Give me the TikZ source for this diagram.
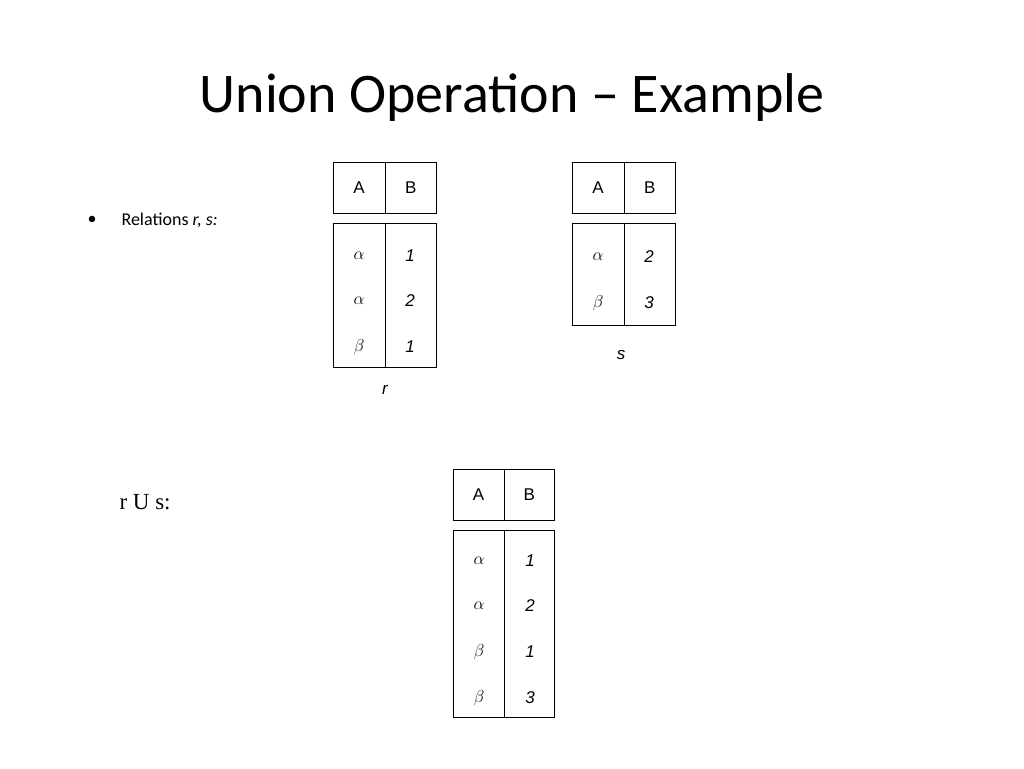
\documentclass[tikz,border=0pt]{standalone}
\usepackage{fontspec}
\usetikzlibrary{calc}
\setmainfont{Liberation Sans}
\newfontfamily\calfont{Carlito}
\newfontfamily\tnr{Liberation Serif}
\newcommand{\tbl}[6]{%
  \node[draw,line width=0.8pt,minimum width=#2-#1,minimum height=51,inner sep=0,anchor=north west] (#6h) at (#1,#3) {};
  \draw[line width=0.8pt] (#6h.north) -- (#6h.south);
  \node[draw,line width=0.8pt,minimum width=#2-#1,minimum height=#5-#4,inner sep=0,anchor=north west] (#6b) at (#1,#4) {};
  \draw[line width=0.8pt] (#6b.north) -- (#6b.south);
  \node[cell] at ($(#6h.center)!0.5!(#6h.west)$) {A};
  \node[cell] at ($(#6h.center)!0.5!(#6h.east)$) {B};
}
\begin{document}
\begin{tikzpicture}[x=1pt,y=-1pt,
  cell/.style={font=\fontsize{17}{17}\selectfont},
  num/.style={font=\fontsize{17}{17}\selectfont\itshape}]
\useasboundingbox (0,0) rectangle (1024,768);
\node[font=\calfont\fontsize{56}{56}\selectfont] (title) at (512,98) {Union Operation – Example};
\node[font=\calfont\fontsize{18}{18}\selectfont] (bul) at (92,220) {•};
\node[anchor=west,font=\calfont\fontsize{18}{18}\selectfont] (rel) at (118,220) {Relations \textit{r, s:}};
\node[anchor=west,font=\tnr\fontsize{23}{23}\selectfont] (rus) at (116,502) {r U s:};
\tbl{333}{436}{162}{223}{367}{r}
\tbl{572}{675}{162}{223}{325}{s}
\tbl{453}{554}{469}{530}{717}{u}
\foreach \y/\g/\n in {256/\alpha/1,301/\alpha/2,347/\beta/1}{
  \node[cell] at (359,\y) {$\g$}; \node[num] at (410,\y) {\n};}
\foreach \y/\g/\n in {257/\alpha/2,303/\beta/3}{
  \node[cell] at (598,\y) {$\g$}; \node[num] at (649,\y) {\n};}
\foreach \y/\g/\n in {561/\alpha/1,606/\alpha/2,652/\beta/1,698/\beta/3}{
  \node[cell] at (479,\y) {$\g$}; \node[num] at (530,\y) {\n};}
\node[num] (rl) at (385,390) {r};
\node[num] (sl) at (621,355) {s};
\end{tikzpicture}
\end{document}
